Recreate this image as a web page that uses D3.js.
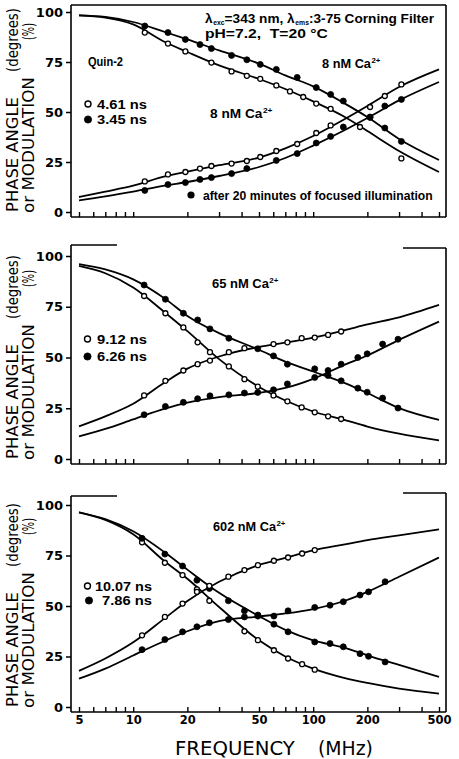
<!DOCTYPE html>
<html><head><meta charset="utf-8">
<script src="https://cdn.jsdelivr.net/npm/d3@7"></script>
<style>
html,body{margin:0;padding:0;background:#fff;}
svg{display:block;}
</style></head>
<body>
<svg id="chart" width="459" height="759"></svg>
<script>
// ---------------- data ----------------
const xTickValues = [5,6,7,8,9,10,20,30,40,50,60,70,80,90,100,200,300,400,500];
const xTickLabels = [5,10,20,50,100,200,500];
const yTickValues = [0,25,50,75,100];
const fitFreqs = [5,7,10,15,20,30,50,70,100,150,200,300,500];

// Panel 1 : 8 nM Ca2+  (open 4.61 ns, filled 3.45 ns)
const p1ModOpen = [[11.6,89.7],[15.6,84.2],[19.5,80.3],[27.2,74.7],[35.2,70.3],[42.8,68.1],[50.8,66.6],[62.4,63.3],[74.3,60.3],[88,57.5],[104,54.2],[125,51.6],[182,42.5],[309,26.8]];
const p1ModFilled = [[11.6,93],[15.6,89.7],[19.5,86.3],[23.5,83.7],[27.2,81.7],[35.2,78.3],[42.8,76.1],[50.8,73.8],[62.4,71.3],[81.5,67.3],[104,62.2],[125,58.8],[147,55.5],[207,47.3],[250,42],[309,35.3]];
const p1PhaseOpen = [[11.6,15.3],[15.6,18.8],[19.5,20],[23.5,21.7],[27.2,23],[35.2,24.2],[42.8,25.5],[50.8,27.5],[62.4,30.5],[81.5,34],[104,39.5],[125,43.3],[207,52.5],[250,58],[309,63.8]];
const p1PhaseFilled = [[11.6,10.8],[15.6,13.7],[19.5,14.7],[23.5,16.3],[27.2,17.2],[35.2,19.2],[42.8,21.7],[62.4,25.8],[81.5,29.2],[104,34.5],[125,37.8],[147,42.5],[207,47.5],[250,53],[309,56.3]];
const p1FitModFilled = [98.3,97.5,95,90,86.3,80.8,74.2,68.3,62.8,54.2,47.5,36.5,26];
const p1FitModOpen = [98.3,97.2,93.8,85,80,73.3,66.5,61.5,55.3,47.5,40.5,30.5,20];
const p1FitPhaseOpen = [7.5,10.2,13.2,17.8,20.2,23.4,27.2,31.8,38,46.5,53,62.5,71.3];
const p1FitPhaseFilled = [5.8,7.8,10.2,13.2,15,18,22.5,27,33.2,41,47,55.8,65];

// Panel 2 : 65 nM Ca2+  (open 9.12 ns, filled 6.26 ns)
const p2ModOpen = [[11.5,80.3],[15.1,71.8],[19,64.8],[22.8,57.5],[26.7,52.6],[34,45.6],[41.5,39.3],[49.2,35.7],[60.2,31.3],[71.9,28.4],[86.3,25.4],[102,23],[121,21],[143,19.7]];
const p2ModFilled = [[11.5,85.7],[15.1,78.7],[19,71.8],[22.8,68.5],[26.7,64.1],[34,59.5],[49.2,54.3],[60.2,50.8],[71.9,46.7],[102,44.4],[121,41.1],[143,38.5],[177,34.9],[199.5,32.9],[243,30],[296,25.1]];
const p2PhaseOpen = [[11.5,31.3],[15.1,38.5],[19,43.6],[22.8,46.7],[26.7,48.5],[34,52.6],[41.5,54.6],[60.2,56.6],[71.9,57.5],[86.3,59.5],[102,59.8],[121,61.1],[143,62.8]];
const p2PhaseFilled = [[11.5,21.8],[15.1,25.9],[19,27.9],[22.8,29.7],[26.7,31.1],[34,31.6],[41.5,32.5],[49.2,32.8],[60.2,34.1],[71.9,37],[102,40.2],[121,43.6],[143,46.7],[177,50],[199.5,51.8],[243,56.6],[296,59]];
const p2FitModFilled = [96,93.4,88.5,79,70.5,62,53.8,48,43.1,37.4,32.5,25.1,19.3];
const p2FitModOpen = [95.1,91.5,84.5,72.2,63,49.2,35.5,28.8,23.4,19.2,16,12.5,9.2];
const p2FitPhaseOpen = [16.1,21,27.2,37.8,44.5,50.5,55.2,57.3,59.8,63.5,66.3,69.8,75.9];
const p2FitPhaseFilled = [11.1,14.8,19.5,24.8,27.8,30.5,32.6,35,39.5,46.5,51,58.7,67.7];

// Panel 3 : 602 nM Ca2+  (open 10.07 ns, filled 7.86 ns)
const p3ModOpen = [[11.2,81.5],[15,71.4],[18.8,65.3],[22.6,58.2],[26.5,52.6],[41.5,37.5],[49.3,33.1],[60.5,28.1],[72.5,24],[86.8,21.2],[102,18.5]];
const p3ModFilled = [[11.2,83.5],[15,75.7],[18.8,69.8],[22.6,62.8],[26.5,58.7],[33.8,52.6],[41.5,47.6],[49.3,45.5],[60.5,41],[72.5,37.2],[102,32.2],[124,31.4],[147,29.8],[182,26.4],[203,25.1],[251,22.3]];
const p3PhaseOpen = [[11.2,35.5],[15,44.6],[18.8,51.2],[22.6,57],[26.5,60],[33.8,64.5],[41.5,67.8],[49.3,70.2],[60.5,72.4],[72.5,74],[86.8,76],[102,77.7]];
const p3PhaseFilled = [[11.2,28.4],[15,33.4],[18.8,37.2],[22.6,39.7],[26.5,41.7],[33.8,43.3],[41.5,44.6],[49.3,45],[60.5,45],[72.5,47.6],[102,49.3],[124,50.4],[147,52.1],[182,55.4],[203,57],[251,62]];
const p3FitModFilled = [96.4,93,87,76.5,68,56.5,45,38.2,33,29.3,25.6,20.8,14.9];
const p3FitModOpen = [96.4,92.6,85.5,72,63.5,49.5,33,25,19,14.3,11.9,9.1,6.6];
const p3FitPhaseOpen = [17.9,24,32,44,52.5,62,70.3,73.8,77.5,80.5,82.6,85,87.9];
const p3FitPhaseFilled = [14,19,25.5,32.8,37.5,42.5,44.8,46.3,48.5,52.6,57,64.5,74];

// ---------------- layout ----------------
const svg = d3.select("#chart");
const x = d3.scaleLog().domain([5,500]).range([79,439]);
const xLeft = 71, xRight = 446;
const tickFont = "'DejaVu Sans', sans-serif";
const labelFont = "'Liberation Sans', Arial, sans-serif";

const panels = [
  {y0:212, y100:12, topL:5, topR:5, full:true, labels:false,
   series:[p1ModOpen,p1ModFilled,p1PhaseOpen,p1PhaseFilled],
   fits:[p1FitModFilled,p1FitModOpen,p1FitPhaseOpen,p1FitPhaseFilled]},
  {y0:459, y100:256, topL:245, topR:248, full:false, labels:false,
   series:[p2ModOpen,p2ModFilled,p2PhaseOpen,p2PhaseFilled],
   fits:[p2FitModFilled,p2FitModOpen,p2FitPhaseOpen,p2FitPhaseFilled]},
  {y0:707, y100:505, topL:496, topR:493, full:false, labels:true,
   series:[p3ModOpen,p3ModFilled,p3PhaseOpen,p3PhaseFilled],
   fits:[p3FitModFilled,p3FitModOpen,p3FitPhaseOpen,p3FitPhaseFilled]}
];
const openFlags = [true,false,true,false];

// fit text horizontally into a given width
function fitText(parent, tx, ty, width, build, opts={}) {
  const g = parent.append("g");
  const t = g.append("text")
    .attr("font-family", opts.family || labelFont)
    .attr("font-size", opts.size || 13)
    .attr("font-weight", opts.weight || "bold")
    .attr("fill","#000");
  build(t);
  const w = t.node().getComputedTextLength();
  const rot = opts.rotate ? " rotate(-90)" : "";
  g.attr("transform", `translate(${tx},${ty})${rot} scale(${width/w},1)`);
  return g;
}
const plain = s => t => t.text(s);
const caText = s => t => { t.append("tspan").text(s); t.append("tspan").attr("font-size",8).attr("dx",0.5).attr("dy",-5).text("2+"); };

panels.forEach((p) => {
  const y = d3.scaleLinear().domain([0,100]).range([p.y0, p.y100]);
  const g = svg.append("g");
  const yb = p.y0 + 5;

  // frame
  const fr = g.append("g").attr("stroke","#000").attr("stroke-width",1.6).attr("fill","none");
  fr.append("line").attr("x1",xLeft).attr("x2",xLeft).attr("y1",p.topL).attr("y2",yb);
  fr.append("line").attr("x1",xLeft).attr("x2",xRight).attr("y1",yb).attr("y2",yb);
  fr.append("line").attr("x1",xRight).attr("x2",xRight).attr("y1",p.topR).attr("y2",yb);
  if (p.full) {
    fr.append("line").attr("x1",xLeft).attr("x2",xRight).attr("y1",p.topL).attr("y2",p.topR);
  } else {
    fr.append("line").attr("x1",xLeft).attr("x2",xLeft+46).attr("y1",p.topL).attr("y2",p.topL);
    fr.append("line").attr("x1",xRight-43).attr("x2",xRight).attr("y1",p.topR).attr("y2",p.topR);
  }

  // y axis
  const ya = g.append("g").attr("transform",`translate(${xLeft},0)`)
    .call(d3.axisLeft(y).tickValues(yTickValues).tickSize(5).tickPadding(3).tickFormat(d3.format("d")));
  ya.select(".domain").remove();
  ya.selectAll("line").attr("stroke-width",1.5);
  ya.selectAll("text").attr("font-family",tickFont).attr("font-size",13).attr("font-weight","bold").attr("fill","#000");

  // x axis
  const xa = g.append("g").attr("transform",`translate(0,${yb})`)
    .call(d3.axisBottom(x).tickValues(xTickValues).tickSizeInner(-5).tickSizeOuter(0).tickPadding(4)
      .tickFormat(d => (p.labels && xTickLabels.includes(d)) ? d : ""));
  xa.select(".domain").remove();
  xa.selectAll("line").attr("stroke-width",1.4);
  xa.selectAll("text").attr("font-family",tickFont).attr("font-size",11.5).attr("font-weight","bold").attr("fill","#000");

  // fitted curves
  const line = d3.line().x((d,i)=>x(fitFreqs[i])).y(d=>y(d)).curve(d3.curveMonotoneX);
  p.fits.forEach(f => {
    g.append("path").attr("d", line(f)).attr("fill","none").attr("stroke","#000").attr("stroke-width",1.8);
  });

  // data points
  p.series.forEach((s, si) => {
    const open = openFlags[si];
    g.append("g").selectAll("circle").data(s).join("circle")
      .attr("cx", d => x(d[0])).attr("cy", d => y(d[1]))
      .attr("r", open ? 2.5 : 3)
      .attr("fill", open ? "#fff" : "#000")
      .attr("stroke","#000").attr("stroke-width", open ? 1.3 : 0.8);
  });

  // y-axis title (two lines, rotated)
  const yl = p.y0;
  fitText(g, 18, yl, 115, plain("PHASE ANGLE"), {family:tickFont, size:16, weight:"normal", rotate:true});
  fitText(g, 18, yl-140, 64, plain("(degrees)"), {family:tickFont, size:16, weight:"normal", rotate:true});
  fitText(g, 34, yl+1, 136, plain("or MODULATION"), {family:tickFont, size:16, weight:"normal", rotate:true});
  fitText(g, 34, yl-172, 17, plain("(%)"), {family:tickFont, size:16, weight:"normal", rotate:true});
});

// ---------------- annotations ----------------
// panel 1
fitText(svg, 205, 23, 228, t => {
  t.append("tspan").text("λ");
  t.append("tspan").attr("font-size",6.5).attr("dx",0.6).attr("dy",2).text("exc");
  t.append("tspan").attr("dy",-2).text("=343 nm, λ");
  t.append("tspan").attr("font-size",6.5).attr("dx",0.6).attr("dy",2).text("ems");
  t.append("tspan").attr("dy",-2).text(":3-75 Corning Filter");
});
fitText(svg, 205, 38, 123, plain("pH=7.2,\u00A0 T=20 \u00B0C"));
fitText(svg, 88, 66, 35, plain("Quin-2"));
fitText(svg, 322, 68, 58, caText("8 nM Ca"));
fitText(svg, 210, 118, 62, caText("8 nM Ca"));

// legends
function legend(cx, cy, open, label, tx, w) {
  svg.append("circle").attr("cx",cx).attr("cy",cy).attr("r", open ? 3 : 3.6)
    .attr("fill", open ? "#fff" : "#000").attr("stroke","#000").attr("stroke-width", open ? 1.4 : 0.8);
  fitText(svg, tx, cy+4.5, w, plain(label));
}
legend(88, 104, true, "4.61 ns", 97, 50);
legend(88, 119.5, false, "3.45 ns", 97, 50);
svg.append("circle").attr("cx",191).attr("cy",195).attr("r",3.6).attr("fill","#000");
fitText(svg, 203, 199.5, 230, plain("after 20 minutes of focused illumination"));

// panel 2
fitText(svg, 212, 288, 66, caText("65 nM Ca"));
legend(87.5, 339, true, "9.12 ns", 97, 50);
legend(87.5, 356.5, false, "6.26 ns", 97, 50);

// panel 3
fitText(svg, 213, 531, 72, caText("602 nM Ca"));
legend(87.5, 586, true, "10.07 ns", 95, 57);
legend(89, 600.5, false, "7.86 ns", 102, 50);

// x-axis title
fitText(svg, 175, 755, 120, plain("FREQUENCY"), {family:tickFont, size:20, weight:"normal"});
fitText(svg, 318, 755, 55, plain("(MHz)"), {family:tickFont, size:20, weight:"normal"});
</script>
</body></html>
